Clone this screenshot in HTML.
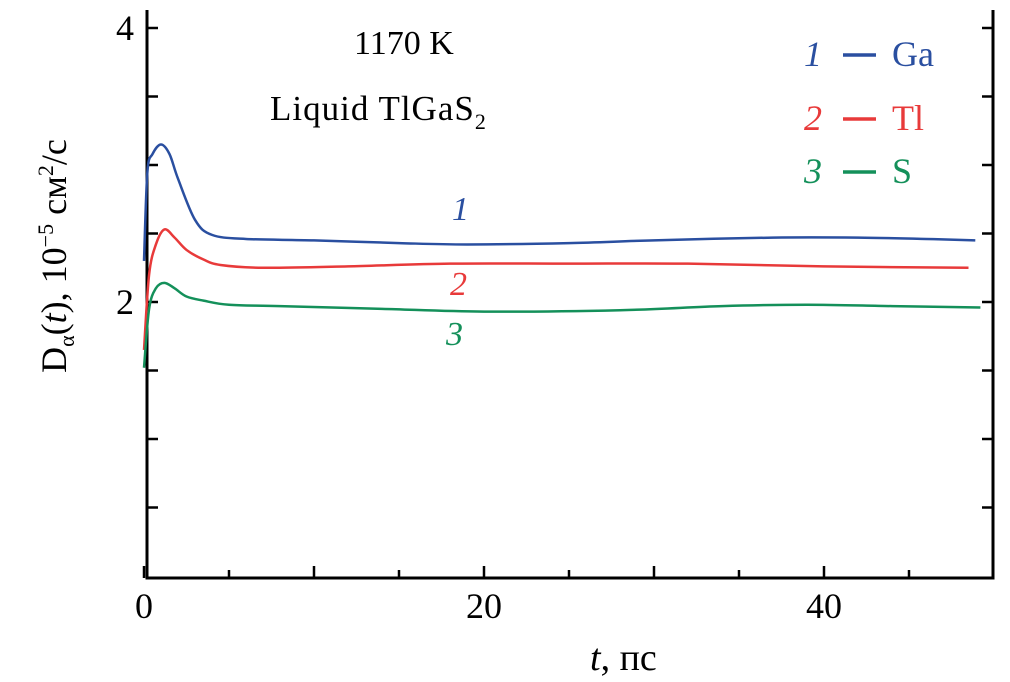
<!DOCTYPE html>
<html><head><meta charset="utf-8"><style>
body{margin:0;background:#fff}
svg{display:block;font-family:"Liberation Serif",serif}
</style></head><body>
<svg id="chart" width="1010" height="682" viewBox="0 0 1010 682">
<g id="axes"></g>
<g id="series"></g>
<text x="354" y="54" font-size="34">1170 K</text>
<text x="270" y="120" font-size="35" letter-spacing="1">Liquid TlGaS<tspan font-size="22" dy="9">2</tspan></text>
<g font-size="36">
<g fill="#2a4fa0"><text x="804" y="66" font-style="italic">1</text><line x1="843" y1="55" x2="876" y2="55" stroke="#2a4fa0" stroke-width="3.5"/><text x="892" y="66">Ga</text></g>
<g fill="#e83a3a"><text x="804" y="130" font-style="italic">2</text><line x1="843" y1="119" x2="876" y2="119" stroke="#e83a3a" stroke-width="3.5"/><text x="892" y="130">Tl</text></g>
<g fill="#14905a"><text x="804" y="183" font-style="italic">3</text><line x1="843" y1="172" x2="876" y2="172" stroke="#14905a" stroke-width="3.5"/><text x="892" y="183">S</text></g>
</g>
<text x="452" y="220" font-size="34" font-style="italic" fill="#2a4fa0">1</text>
<text x="450" y="295" font-size="34" font-style="italic" fill="#e83a3a">2</text>
<text x="446" y="345" font-size="34" font-style="italic" fill="#14905a">3</text>
<text transform="translate(66,256) rotate(-90)" text-anchor="middle" font-size="36">D<tspan font-size="22" dy="8">α</tspan><tspan dy="-8">(</tspan><tspan font-style="italic">t</tspan>), 10<tspan font-size="22" dy="-13">−5</tspan><tspan dy="13"> см</tspan><tspan font-size="22" dy="-13">2</tspan><tspan dy="13">/с</tspan></text>
<text x="590" y="670" font-size="38"><tspan font-style="italic">t</tspan>, пс</text>
</svg>
<script>
const xTicks=[0,5,10,15,20,25,30,35,40,45];
const xLabels=[0,20,40];
const yTicks=[0.5,1,1.5,2,2.5,3,3.5,4];
const yLabels=[2,4];
const tGa=[0,0.2,0.5,1,1.5,2,3,4,6,10,15,19,25,30,37,42,46,48.9];
const vGa=[2.3,2.95,3.08,3.15,3.08,2.9,2.6,2.49,2.46,2.45,2.43,2.42,2.43,2.45,2.47,2.47,2.46,2.45];
const tTl=[0,0.3,0.7,1.2,1.8,2.5,3.5,4.5,7,12,18,25,32,40,48.5];
const vTl=[1.65,2.2,2.42,2.53,2.47,2.38,2.31,2.27,2.25,2.26,2.28,2.28,2.28,2.26,2.25];
const tS=[0,0.3,0.7,1.2,1.8,2.5,3.5,5,8,14,20,28,34,39,44,49.2];
const vS=[1.52,1.95,2.1,2.14,2.1,2.04,2.01,1.98,1.97,1.95,1.93,1.94,1.97,1.98,1.97,1.96];
const NS="http://www.w3.org/2000/svg";
const X=t=>144+17*t, Y=v=>302-(v-2)*137;
const ax=document.getElementById('axes'), sg=document.getElementById('series');
function mk(tag,attrs,parent){const e=document.createElementNS(NS,tag);for(const k in attrs)e.setAttribute(k,attrs[k]);parent.appendChild(e);return e;}
let e=mk('path',{d:'M147 10 V578 H993 V10',fill:'none',stroke:'#000','stroke-width':3},ax);


xTicks.forEach(t=>{const l=mk('line',{x1:X(t),x2:X(t),y1:578,y2:t%10===0?566:570,stroke:'#000','stroke-width':2.5},ax);

});
yTicks.forEach(v=>{[[147,158],[993,982]].forEach(p=>{const l=mk('line',{x1:p[0],x2:p[1],y1:Y(v),y2:Y(v),stroke:'#000','stroke-width':2.5},ax);

});});
xLabels.forEach(t=>{const tx=mk('text',{x:X(t),y:618,'text-anchor':'middle','font-size':36},ax);tx.textContent=t;

});
yLabels.forEach(v=>{const tx=mk('text',{x:134,y:Y(v)+12,'text-anchor':'end','font-size':36},ax);tx.textContent=v;

});
function smooth(ts,vs){const p=ts.map((t,i)=>[X(t),Y(vs[i])]);let d='M'+p[0][0]+' '+p[0][1];
for(let i=0;i<p.length-1;i++){const p0=p[Math.max(0,i-1)],p1=p[i],p2=p[i+1],p3=p[Math.min(p.length-1,i+2)];
const c1=[p1[0]+(p2[0]-p0[0])/6,p1[1]+(p2[1]-p0[1])/6],c2=[p2[0]-(p3[0]-p1[0])/6,p2[1]-(p3[1]-p1[1])/6];
d+=` C${c1[0]} ${c1[1]} ${c2[0]} ${c2[1]} ${p2[0]} ${p2[1]}`;}return d;}
[[tGa,vGa,'#2a4fa0','series-ga'],[tTl,vTl,'#e83a3a','series-tl'],[tS,vS,'#14905a','series-s']].forEach(s=>{
const p=mk('path',{d:smooth(s[0],s[1]),fill:'none',stroke:s[2],'stroke-width':2.5},sg);

});
</script>
</body></html>
